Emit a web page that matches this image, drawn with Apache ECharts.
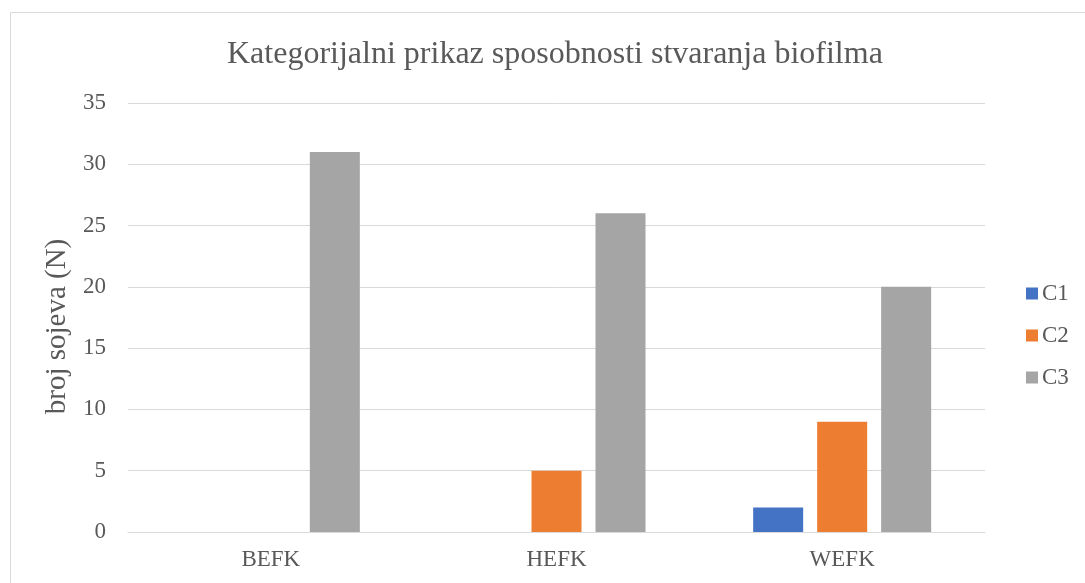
<!DOCTYPE html>
<html>
<head>
<meta charset="utf-8">
<script src="https://cdn.jsdelivr.net/npm/echarts@6/dist/echarts.min.js"></script>
<style>
  html, body { margin: 0; padding: 0; background: #fff; }
  #chart { width: 1085px; height: 583px; }
</style>
</head>
<body>
<div id="chart"></div>
<script>
// kategorije i vrijednosti
const categories = ['BEFK', 'HEFK', 'WEFK'];
const c1 = [0, 0, 2];
const c2 = [0, 5, 9];
const c3 = [31, 26, 20];
const seriesNames = ['C1', 'C2', 'C3'];
const colors = ['#4472c4', '#ed7d31', '#a5a5a5'];

const txt = '#595959';
const font = '"Liberation Serif", "Times New Roman", serif';

const chart = echarts.init(document.getElementById('chart'));
chart.setOption({
  animation: false,
  textStyle: { fontFamily: font },
  title: {
    text: 'Kategorijalni prikaz sposobnosti stvaranja biofilma',
    left: 222,
    top: 34,
    textStyle: { fontFamily: font, fontSize: 32, fontWeight: 'normal', color: txt }
  },
  graphic: [{
    type: 'rect',
    shape: { x: 10.5, y: 12.5, width: 1090, height: 600 },
    style: { fill: 'none', stroke: '#d9d9d9', lineWidth: 1 }
  }],
  legend: {
    orient: 'vertical',
    left: 1021,
    top: 277,
    itemWidth: 12,
    itemHeight: 12,
    itemGap: 19,
    icon: 'rect',
    textStyle: { fontFamily: font, fontSize: 23, color: txt, padding: [0, 0, 0, -1] },
    data: seriesNames
  },
  grid: { left: 128, right: 100, top: 103, bottom: 51 },
  xAxis: {
    type: 'category',
    data: categories,
    axisLine: { lineStyle: { color: '#d9d9d9' } },
    axisTick: { show: false },
    axisLabel: { fontFamily: font, fontSize: 23, color: txt, margin: 16 }
  },
  yAxis: {
    type: 'value',
    min: 0,
    max: 35,
    interval: 5,
    name: 'broj sojeva (N)',
    nameLocation: 'middle',
    nameGap: 49,
    nameTextStyle: { fontFamily: font, fontSize: 29, color: txt, padding: [0, 18, 0, 0] },
    axisLine: { show: false },
    axisTick: { show: false },
    axisLabel: { fontFamily: font, fontSize: 23, color: txt, margin: 22 },
    splitLine: { lineStyle: { color: '#d9d9d9', width: 1 } }
  },
  series: [c1, c2, c3].map((d, i) => ({
    name: seriesNames[i],
    type: 'bar',
    data: d,
    barWidth: 50,
    barGap: '28%',
    itemStyle: { color: colors[i] }
  }))
});
</script>
</body>
</html>
